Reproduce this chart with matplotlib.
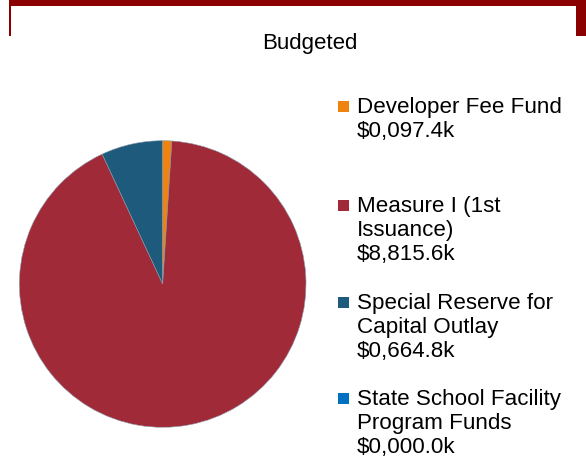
import matplotlib
matplotlib.use("Agg")
import matplotlib.pyplot as plt
from matplotlib.patches import Rectangle

plt.rcParams['font.family'] = ['Liberation Sans', 'DejaVu Sans']

title = "Budgeted"
categories = ["Developer Fee Fund", "Measure I (1st\nIssuance)",
              "Special Reserve for\nCapital Outlay",
              "State School Facility\nProgram Funds"]
values = [97.4, 8815.6, 664.8, 0.0]
colors = ["#F0820F", "#A02A38", "#1E5A7C", "#0070C0"]

W, H = 586, 466
fig = plt.figure(figsize=(W / 100, H / 100), dpi=100)

# frame decoration (dark red)
frame = "#8B0000"
fig.patches.append(Rectangle((9 / W, 1 - 6 / H), 1 - 9 / W, 6 / H,
                             transform=fig.transFigure, color=frame, lw=0))
fig.patches.append(Rectangle((9 / W, 1 - 36 / H), 2 / W, 36 / H,
                             transform=fig.transFigure, color=frame, lw=0))
fig.patches.append(Rectangle((576 / W, 1 - 36 / H), 10 / W, 36 / H,
                             transform=fig.transFigure, color=frame, lw=0))

fig.text(310 / W, 1 - 43 / H, title, ha='center', va='center', fontsize=16)

# pie
cx, cy, r = 162.7, 284, 143.3
ax = fig.add_axes([(cx - r) / W, (H - cy - r) / H, 2 * r / W, 2 * r / H])
ax.pie(values, colors=colors, startangle=90, counterclock=False,
       wedgeprops=dict(edgecolor="#8a9aa8", linewidth=0.4))
ax.set_xlim(-1, 1)
ax.set_ylim(-1, 1)
ax.set_aspect('equal')
ax.axis('off')

# legend
y_tops = [97, 196, 293, 389]
for lab, v, c, yt in zip(categories, values, colors, y_tops):
    fig.patches.append(Rectangle((338 / W, 1 - (yt + 15) / H), 11 / W, 11 / H,
                                 transform=fig.transFigure, color=c, lw=0))
    txt = lab + "\n$" + format(v, "07,.1f") + "k"
    fig.text(357 / W, 1 - yt / H, txt, ha='left', va='top',
             fontsize=16.1, linespacing=1.18)

fig.savefig("out.png", dpi=100)
